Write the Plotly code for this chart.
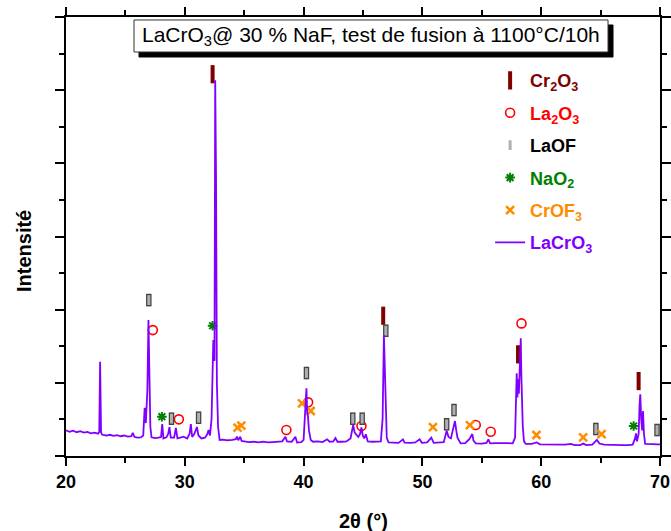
import plotly.graph_objects as go

# ---- XRD pattern (2theta in degrees, intensity in counts) ----
two_theta = [20.0, 20.3, 20.6, 20.9, 21.2, 21.5, 21.8, 22.1, 22.4, 22.7, 22.8, 22.87, 22.95, 23.05, 23.4, 23.7,
             24.0, 24.3, 24.6, 24.9, 25.2, 25.5, 25.62, 25.75, 26.0, 26.3, 26.5, 26.62, 26.72, 26.85, 26.94, 27.02,
             27.1, 27.2, 27.5, 27.8, 28.0, 28.1, 28.2, 28.45, 28.6, 28.71, 28.82, 29.1, 29.25, 29.38, 29.6, 29.9,
             30.2, 30.4, 30.51, 30.62, 30.8, 31.02, 31.15, 31.4, 31.7, 31.9, 32.0, 32.12, 32.25, 32.4, 32.5, 32.56,
             32.63, 32.7, 32.8, 32.93, 33.2, 33.6, 34.0, 34.3, 34.39, 34.5, 34.67, 34.78, 35.0, 35.4, 35.8, 36.2,
             36.6, 37.0, 37.4, 37.8, 38.2, 38.47, 38.6, 39.0, 39.31, 39.45, 39.8, 40.0, 40.1, 40.17, 40.24, 40.3,
             40.37, 40.45, 40.6, 40.8, 41.2, 41.6, 41.98, 42.2, 42.5, 42.68, 42.85, 43.2, 43.6, 43.95, 44.17, 44.3,
             44.45, 44.6, 44.75, 44.87, 44.98, 45.1, 45.24, 45.4, 45.8, 46.2, 46.5, 46.65, 46.72, 46.76, 46.82, 46.9,
             47.0, 47.15, 47.6, 48.0, 48.36, 48.5, 49.0, 49.4, 49.77, 49.95, 50.4, 50.75, 50.95, 51.4, 51.8, 52.04,
             52.2, 52.4, 52.6, 52.74, 52.85, 52.95, 53.22, 53.6, 53.95, 54.1, 54.2, 54.3, 54.5, 55.0, 55.4, 55.55,
             55.7, 56.2, 56.7, 57.2, 57.6, 57.8, 57.9, 57.94, 58.0, 58.05, 58.12, 58.2, 58.28, 58.33, 58.38, 58.45,
             58.55, 58.7, 59.2, 59.63, 59.9, 60.4, 61.0, 61.6, 62.0, 62.5, 62.8, 63.3, 63.53, 63.8, 64.3, 64.69,
             64.9, 65.3, 65.8, 66.3, 66.8, 67.3, 67.7, 67.9, 67.98, 68.06, 68.2, 68.28, 68.34, 68.42, 68.5, 68.57,
             68.65, 68.75, 69.0, 69.4, 69.8, 70.0]
intensity = [350, 330, 345, 325, 340, 320, 330, 310, 318, 305, 330, 1288, 320, 290, 280, 290,
             275, 285, 270, 280, 265, 270, 318, 262, 250, 255, 280, 660, 450, 900, 1858, 1200,
             400, 255, 245, 250, 260, 437, 240, 255, 300, 396, 250, 250, 383, 240, 250, 265,
             240, 300, 437, 260, 300, 396, 280, 240, 250, 300, 355, 280, 500, 1585, 1300, 5137,
             3800, 1000, 400, 219, 225, 215, 220, 230, 264, 215, 264, 205, 200, 190, 195, 185,
             195, 185, 190, 195, 200, 264, 200, 195, 264, 185, 190, 220, 500, 724, 925, 600,
             537, 350, 220, 195, 200, 190, 228, 195, 200, 245, 195, 195, 200, 240, 423, 320,
             280, 260, 300, 392, 280, 240, 296, 200, 195, 195, 200, 500, 1400, 1653, 1300, 600,
             250, 185, 185, 180, 228, 182, 180, 185, 228, 180, 185, 250, 180, 180, 190, 346,
             260, 240, 400, 478, 350, 250, 173, 175, 230, 270, 300, 210, 173, 170, 180, 228,
             172, 175, 170, 175, 173, 250, 900, 1130, 800, 1050, 850, 1200, 1608, 1100, 700, 400,
             200, 165, 165, 185, 160, 158, 160, 152, 155, 165, 150, 150, 170, 150, 155, 219,
             170, 155, 150, 152, 148, 150, 155, 240, 310, 200, 300, 700, 843, 500, 350, 615,
             300, 165, 160, 162, 158, 160]

# ---- phase markers ----
cr2o3_x = [32.34, 46.70, 58.05, 68.20]
cr2o3_y = [5218, 1917, 1389, 1024]
la2o3_x = [27.31, 29.50, 38.55, 40.38, 44.87, 54.49, 55.75, 58.34]
la2o3_y = [1721, 501, 355, 733, 410, 423, 332, 1812]
laof_x = [26.97, 28.88, 31.16, 40.24, 46.92, 44.14, 44.93, 52.04, 52.66, 64.60, 69.75]
laof_y = [2131, 510, 523, 1134, 1712, 510, 510, 433, 628, 369, 355]
nao2_x = [28.07, 32.34, 67.78]
nao2_y = [537, 1780, 410]
crof3_x = [34.44, 34.76, 39.87, 40.60, 50.89, 54.00, 59.60, 63.53, 65.08]
crof3_y = [387, 414, 720, 615, 396, 423, 287, 255, 300]

x_ticks = [20, 30, 40, 50, 60, 70]
title_text = "LaCrO<sub>3</sub>@ 30 % NaF, test de fusion à 1100°C/10h"
x_title = "<b>2θ (°)</b>"
y_title = "<b>Intensité</b>"

FONT = "Liberation Sans, Arial, sans-serif"

def lbl(txt, col):
    return f'<span style="color:{col}"><b>{txt}</b></span>'

fig = go.Figure()

fig.add_trace(go.Scatter(
    x=cr2o3_x, y=cr2o3_y, mode="markers", legendgroup="a",
    name=lbl("Cr<sub>2</sub>O<sub>3</sub>", "#800000"),
    marker=dict(symbol="line-ns-open", size=13, color="#800000",
                line=dict(color="#800000", width=4))))
fig.add_trace(go.Scatter(
    x=la2o3_x, y=la2o3_y, mode="markers", legendgroup="b",
    name=lbl("La<sub>2</sub>O<sub>3</sub>", "#ff0000"),
    marker=dict(symbol="circle-open", size=9, color="#ff0000",
                line=dict(color="#ff0000", width=1.6))))
fig.add_trace(go.Scatter(
    x=laof_x, y=laof_y, mode="markers", legendgroup="c", showlegend=False,
    marker=dict(symbol="line-ns-open", size=9, color="#444444",
                line=dict(color="#444444", width=5.5))))
fig.add_trace(go.Scatter(
    x=laof_x, y=laof_y, mode="markers", legendgroup="c",
    name=lbl("LaOF", "#000000"),
    marker=dict(symbol="line-ns-open", size=7, color="#b0b0b0",
                line=dict(color="#b0b0b0", width=3))))
fig.add_trace(go.Scatter(
    x=nao2_x, y=nao2_y, mode="markers", legendgroup="d",
    name=lbl("NaO<sub>2</sub>", "#008000"),
    marker=dict(symbol="asterisk-open", size=8, color="#008000",
                line=dict(color="#008000", width=2))))
fig.add_trace(go.Scatter(
    x=crof3_x, y=crof3_y, mode="markers", legendgroup="e",
    name=lbl("CrOF<sub>3</sub>", "#ff8c00"),
    marker=dict(symbol="x-thin-open", size=8, color="#ff8c00",
                line=dict(color="#ff8c00", width=2.5))))
fig.add_trace(go.Scatter(
    x=two_theta, y=intensity, mode="lines", legendgroup="f",
    name=lbl("LaCrO<sub>3</sub>", "#8000ff"),
    line=dict(color="#8000ff", width=1.8)))

# title box with drop shadow (layout shapes in paper coordinates)
fig.add_shape(type="rect", xref="paper", yref="paper",
              x0=0.1229, x1=0.9209, y0=0.9089, y1=0.9818,
              fillcolor="black", line=dict(color="black", width=1))
fig.add_shape(type="rect", xref="paper", yref="paper",
              x0=0.1145, x1=0.9125, y0=0.9203, y1=0.9932,
              fillcolor="white", line=dict(color="#333333", width=1))
fig.add_annotation(xref="paper", yref="paper", x=0.5135, y=0.9567, text=title_text,
                   showarrow=False, font=dict(family=FONT, size=21, color="black"),
                   xanchor="center", yanchor="middle")

# axis titles
fig.add_annotation(xref="paper", yref="paper", x=0.5, y=-0.148, text=x_title,
                   showarrow=False, font=dict(family=FONT, size=20, color="black"),
                   xanchor="center", yanchor="middle")
fig.add_annotation(xref="paper", yref="paper", x=-0.0707, y=0.467, text=y_title,
                   showarrow=False, textangle=-90,
                   font=dict(family=FONT, size=20, color="black"),
                   xanchor="center", yanchor="middle")

fig.update_layout(
    width=671, height=531,
    margin=dict(l=66, r=11, t=17, b=75, autoexpand=False),
    paper_bgcolor="white", plot_bgcolor="white",
    font=dict(family=FONT, color="black"),
    legend=dict(x=0.714, y=0.897, xanchor="left", yanchor="top",
                font=dict(family=FONT, size=18), bgcolor="rgba(0,0,0,0)",
                tracegroupgap=6, itemwidth=30),
    showlegend=True,
)
fig.update_xaxes(
    range=[20, 70], tickvals=x_ticks, ticktext=[f"<b>{v}</b>" for v in x_ticks],
    automargin=False,
    showgrid=False, zeroline=False, showline=True, linecolor="black", linewidth=2,
    mirror="ticks", ticks="outside", ticklen=8, tickwidth=2, tickcolor="black",
    minor=dict(dtick=5, ticks="outside", ticklen=5, tickwidth=2, tickcolor="black"),
    tickfont=dict(family=FONT, size=18, color="black"),
)
fig.update_yaxes(
    range=[0, 6000], dtick=1000, showticklabels=False, automargin=False,
    showgrid=False, zeroline=False, showline=True, linecolor="black", linewidth=2,
    mirror="ticks", ticks="outside", ticklen=9, tickwidth=2, tickcolor="black",
    minor=dict(dtick=500, ticks="outside", ticklen=5, tickwidth=2, tickcolor="black"),
)

fig.write_html("out.html", config={"displayModeBar": False},
               post_script="document.body.style.margin='0';document.body.style.overflow='hidden';")
